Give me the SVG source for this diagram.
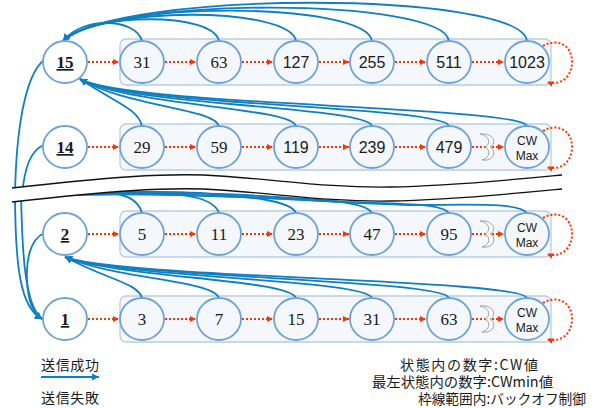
<svg xmlns="http://www.w3.org/2000/svg" width="593" height="408" viewBox="0 0 593 408">
<defs>
<style>
.frame{fill:#f4f7fb;stroke:#b9cde4;stroke-width:1.3}
.st{fill:#f4f7fb;stroke:#6ea2d8;stroke-width:1.8}
.so{fill:#ffffff;stroke:#6ea2d8;stroke-width:1.8}
.blue{fill:none;stroke:#0e7fc2;stroke-width:1.8}
.red{fill:none;stroke:#ff3300;stroke-width:2;stroke-dasharray:2 2}
.brk{fill:none;stroke:#111;stroke-width:1.3}
.wav{fill:#ffffff;stroke:#a0a0a0;stroke-width:1}
.nums text{font-family:'Liberation Serif','DejaVu Serif',serif;font-size:17px;fill:#1a1a1a;text-anchor:middle}
.nums text.s{font-family:'Liberation Sans',Arial,sans-serif;font-size:16px}
.nums text.c{font-family:'Liberation Sans',Arial,sans-serif;font-size:12px}
.nums text.b{font-weight:bold;text-decoration:underline}
.jp{font-family:'Noto Sans CJK JP','Noto Sans CJK SC',sans-serif;fill:#1a1a1a}
</style>
<marker id="ab" markerWidth="9" markerHeight="9" refX="7" refY="4" orient="auto" markerUnits="userSpaceOnUse"><path d="M0,0.5 L7,4 L0,7.5z" fill="#0e7fc2"/></marker>
<marker id="ar" markerWidth="8" markerHeight="8" refX="6" refY="3.5" orient="auto" markerUnits="userSpaceOnUse"><path d="M0,0.5 L6,3.5 L0,6.5z" fill="#ff3300"/></marker>
</defs>
<rect width="593" height="408" fill="#ffffff"/>

<g id="frames">
<rect class="frame" x="120" y="39" width="431" height="46" rx="6"/>
<rect class="frame" x="120" y="124" width="431" height="46" rx="6"/>
<rect class="frame" x="120" y="211" width="431" height="46" rx="6"/>
<rect class="frame" x="120" y="296" width="431" height="46" rx="6"/>
</g>

<g id="connectors">
<path class="blue" d="M142,41 C136,18 82,16 63,41" marker-end="url(#ab)"/>
<path class="blue" d="M219,41 C213,12 92,12 63,41" marker-end="url(#ab)"/>
<path class="blue" d="M296,41 C290,6 100,6 63,41" marker-end="url(#ab)"/>
<path class="blue" d="M372,41 C366,1 105,0 63,41" marker-end="url(#ab)"/>
<path class="blue" d="M449,41 C443,-3 110,-4 63,41" marker-end="url(#ab)"/>
<path class="blue" d="M527,41 C520,-10 115,-10 63,41" marker-end="url(#ab)"/>

<path class="blue" d="M142,126 C138,109 118,104 80,79" marker-end="url(#ab)"/>
<path class="blue" d="M219,126 C213,108 125,106 80,79" marker-end="url(#ab)"/>
<path class="blue" d="M296,126 C290,107 130,106 80,79" marker-end="url(#ab)"/>
<path class="blue" d="M372,126 C366,106 130,106 80,79" marker-end="url(#ab)"/>
<path class="blue" d="M449,126 C443,106 130,106 80,79" marker-end="url(#ab)"/>
<path class="blue" d="M527,126 C521,106 130,106 80,79" marker-end="url(#ab)"/>

<path class="blue" d="M142,298 C138,283 108,280 65,257" marker-end="url(#ab)"/>
<path class="blue" d="M219,298 C213,280 115,279 65,257" marker-end="url(#ab)"/>
<path class="blue" d="M296,298 C290,279 120,278 65,257" marker-end="url(#ab)"/>
<path class="blue" d="M372,298 C366,279 120,278 65,257" marker-end="url(#ab)"/>
<path class="blue" d="M449,298 C443,279 120,278 65,257" marker-end="url(#ab)"/>
<path class="blue" d="M527,298 C521,279 120,278 65,257" marker-end="url(#ab)"/>

<path class="blue" d="M142,213 C138,199 125,193 100,192 L40,196"/>
<path class="blue" d="M219,213 C214,199 190,194 150,192 C120,191 80,193 40,196"/>
<path class="blue" d="M296,213 C290,200 250,197 200,193 C150,190 90,193 40,196"/>
<path class="blue" d="M372,213 C365,201 320,200 260,196 C200,192 100,192 40,196"/>
<path class="blue" d="M449,213 C442,203 400,204 345,202 C260,197 120,191 40,196"/>
<path class="blue" d="M527,213 C518,202 470,205 410,205 C320,203 200,190 40,196"/>

<path class="blue" d="M44,60 C25,75 16,130 15,196"/>
<path class="blue" d="M44,145 C30,150 24,170 22,196"/>
<path class="blue" d="M15,190 C15,265 20,308 42,319" marker-end="url(#ab)"/>
<path class="blue" d="M21,190 C22,262 26,306 42,319" marker-end="url(#ab)"/>
<path class="blue" d="M44,233 C30,240 26,260 27,280 C28,300 32,312 42,319" marker-end="url(#ab)"/>

<path class="red" d="M88,62 H119" marker-end="url(#ar)"/>
<path class="red" d="M165,62 H196" marker-end="url(#ar)"/>
<path class="red" d="M242,62 H273" marker-end="url(#ar)"/>
<path class="red" d="M319,62 H349" marker-end="url(#ar)"/>
<path class="red" d="M395,62 H426" marker-end="url(#ar)"/>
<path class="red" d="M472,62 H504" marker-end="url(#ar)"/>
<path class="red" d="M543,46 C556,38 572,44 572,62 C572,79 558,86 547,82" marker-end="url(#ar)"/>

<path class="red" d="M88,147 H119" marker-end="url(#ar)"/>
<path class="red" d="M165,147 H196" marker-end="url(#ar)"/>
<path class="red" d="M242,147 H273" marker-end="url(#ar)"/>
<path class="red" d="M319,147 H349" marker-end="url(#ar)"/>
<path class="red" d="M395,147 H426" marker-end="url(#ar)"/>
<path class="red" d="M472,147 H504" marker-end="url(#ar)"/>
<path class="red" d="M543,131 C556,123 572,129 572,147 C572,164 558,171 547,167" marker-end="url(#ar)"/>

<path class="red" d="M88,234 H119" marker-end="url(#ar)"/>
<path class="red" d="M165,234 H196" marker-end="url(#ar)"/>
<path class="red" d="M242,234 H273" marker-end="url(#ar)"/>
<path class="red" d="M319,234 H349" marker-end="url(#ar)"/>
<path class="red" d="M395,234 H426" marker-end="url(#ar)"/>
<path class="red" d="M472,234 H504" marker-end="url(#ar)"/>
<path class="red" d="M543,218 C556,210 572,216 572,234 C572,251 558,258 547,254" marker-end="url(#ar)"/>

<path class="red" d="M88,319 H119" marker-end="url(#ar)"/>
<path class="red" d="M165,319 H196" marker-end="url(#ar)"/>
<path class="red" d="M242,319 H273" marker-end="url(#ar)"/>
<path class="red" d="M319,319 H349" marker-end="url(#ar)"/>
<path class="red" d="M395,319 H426" marker-end="url(#ar)"/>
<path class="red" d="M472,319 H504" marker-end="url(#ar)"/>
<path class="red" d="M543,303 C556,295 572,301 572,319 C572,336 558,343 547,339" marker-end="url(#ar)"/>
</g>

<g id="break">
<path fill="#ffffff" d="M12,188 C100,178 170,172 220,176 C280,180 330,188 390,187 C450,186 510,180 562,175 L562,189 C510,194 450,200 390,201 C330,202 280,194 220,190 C170,186 100,192 12,202 Z"/>
<path class="brk" d="M12,188 C100,178 170,172 220,176 C280,180 330,188 390,187 C450,186 510,180 562,175"/>
<path class="brk" d="M12,202 C100,192 170,186 220,190 C280,194 330,202 390,201 C450,200 510,194 562,189"/>
</g>

<g id="omit">
<path class="wav" d="M480,134 C490,136 491,144 485,147 C491,150 490,158 482,160 L487,160 C495,158 496,150 490,147 C496,144 495,136 485,134 Z"/>
<path class="wav" d="M480,221 C490,223 491,231 485,234 C491,237 490,245 482,247 L487,247 C495,245 496,237 490,234 C496,231 495,223 485,221 Z"/>
<path class="wav" d="M480,306 C490,308 491,316 485,319 C491,322 490,330 482,332 L487,332 C495,330 496,322 490,319 C496,316 495,308 485,306 Z"/>
</g>

<g class="nums">
<g id="n15"><ellipse class="so" cx="65" cy="62" rx="22" ry="21"/><text class="b" x="65" y="68">15</text></g>
<g id="n15_31"><ellipse class="st" cx="142" cy="62" rx="22" ry="21"/><text x="142" y="68">31</text></g>
<g id="n15_63"><ellipse class="st" cx="219" cy="62" rx="22" ry="21"/><text x="219" y="68">63</text></g>
<g id="n15_127"><ellipse class="st" cx="296" cy="62" rx="22" ry="21"/><text class="s" x="296" y="68">127</text></g>
<g id="n15_255"><ellipse class="st" cx="372" cy="62" rx="22" ry="21"/><text class="s" x="372" y="68">255</text></g>
<g id="n15_511"><ellipse class="st" cx="449" cy="62" rx="22" ry="21"/><text class="s" x="449" y="68">511</text></g>
<g id="n15_1023"><ellipse class="st" cx="527" cy="62" rx="22" ry="21"/><text class="s" x="527" y="68">1023</text></g>

<g id="n14"><ellipse class="so" cx="65" cy="147" rx="22" ry="21"/><text class="b" x="65" y="153">14</text></g>
<g id="n14_29"><ellipse class="st" cx="142" cy="147" rx="22" ry="21"/><text x="142" y="153">29</text></g>
<g id="n14_59"><ellipse class="st" cx="219" cy="147" rx="22" ry="21"/><text x="219" y="153">59</text></g>
<g id="n14_119"><ellipse class="st" cx="296" cy="147" rx="22" ry="21"/><text class="s" x="296" y="153">119</text></g>
<g id="n14_239"><ellipse class="st" cx="372" cy="147" rx="22" ry="21"/><text class="s" x="372" y="153">239</text></g>
<g id="n14_479"><ellipse class="st" cx="449" cy="147" rx="22" ry="21"/><text class="s" x="449" y="153">479</text></g>
<g id="n14_max"><ellipse class="st" cx="527" cy="147" rx="22" ry="21"/><text class="c" x="527" y="145">CW</text><text class="c" x="527" y="160">Max</text></g>

<g id="n2"><ellipse class="so" cx="65" cy="234" rx="22" ry="21"/><text class="b" x="65" y="240">2</text></g>
<g id="n2_5"><ellipse class="st" cx="142" cy="234" rx="22" ry="21"/><text x="142" y="240">5</text></g>
<g id="n2_11"><ellipse class="st" cx="219" cy="234" rx="22" ry="21"/><text x="219" y="240">11</text></g>
<g id="n2_23"><ellipse class="st" cx="296" cy="234" rx="22" ry="21"/><text x="296" y="240">23</text></g>
<g id="n2_47"><ellipse class="st" cx="372" cy="234" rx="22" ry="21"/><text x="372" y="240">47</text></g>
<g id="n2_95"><ellipse class="st" cx="449" cy="234" rx="22" ry="21"/><text x="449" y="240">95</text></g>
<g id="n2_max"><ellipse class="st" cx="527" cy="234" rx="22" ry="21"/><text class="c" x="527" y="232">CW</text><text class="c" x="527" y="247">Max</text></g>

<g id="n1"><ellipse class="so" cx="65" cy="319" rx="22" ry="21"/><text class="b" x="65" y="325">1</text></g>
<g id="n1_3"><ellipse class="st" cx="142" cy="319" rx="22" ry="21"/><text x="142" y="325">3</text></g>
<g id="n1_7"><ellipse class="st" cx="219" cy="319" rx="22" ry="21"/><text x="219" y="325">7</text></g>
<g id="n1_15"><ellipse class="st" cx="296" cy="319" rx="22" ry="21"/><text x="296" y="325">15</text></g>
<g id="n1_31"><ellipse class="st" cx="372" cy="319" rx="22" ry="21"/><text x="372" y="325">31</text></g>
<g id="n1_63"><ellipse class="st" cx="449" cy="319" rx="22" ry="21"/><text x="449" y="325">63</text></g>
<g id="n1_max"><ellipse class="st" cx="527" cy="319" rx="22" ry="21"/><text class="c" x="527" y="317">CW</text><text class="c" x="527" y="332">Max</text></g>
</g>

<g id="legend">
<text class="jp" x="41" y="370" font-size="14" textLength="58">送信成功</text>
<path class="blue" d="M41,377 H99" marker-end="url(#ab)"/>
<text class="jp" x="41" y="403" font-size="14" textLength="58">送信失敗</text>
<path class="red" d="M41,411 H99" marker-end="url(#ar)"/>
<text class="jp" x="400" y="370" font-size="14" textLength="138">状態内の数字:CW値</text>
<text class="jp" x="372" y="387" font-size="14" textLength="181" lengthAdjust="spacingAndGlyphs">最左状態内の数字:CWmin値</text>
<text class="jp" x="418" y="404" font-size="14" textLength="168" lengthAdjust="spacingAndGlyphs">枠線範囲内:バックオフ制御</text>
</g>
</svg>
